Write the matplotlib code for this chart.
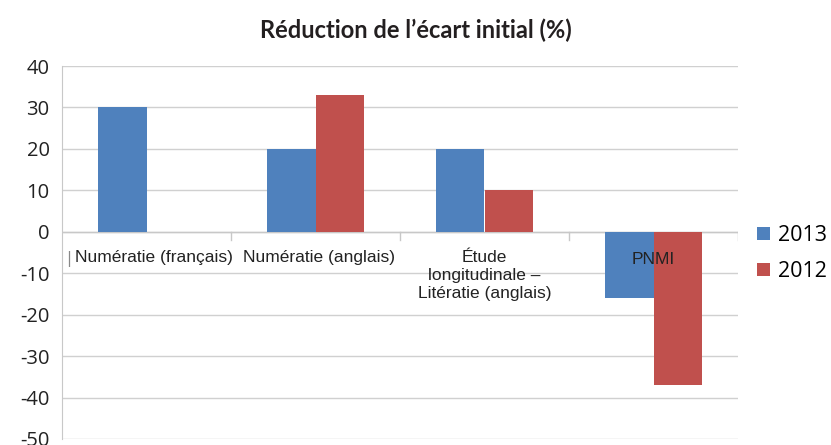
import matplotlib.pyplot as plt
import numpy as np

categories = ["Numératie (français)", "Numératie (anglais)",
              "Étude\nlongitudinale –\nLitératie (anglais)", "PNMI"]
series_2013 = [30, 20, 20, -16]
series_2012 = [0, 33, 10, -37]
yticks = [-50, -40, -30, -20, -10, 0, 10, 20, 30, 40]

fig = plt.figure(figsize=(8.31, 4.45), dpi=100)
ax = fig.add_axes([62 / 831, 1 - 439 / 445, (738 - 62) / 831, (439 - 66) / 445])

x = np.arange(len(categories))
w = 0.285
ax.bar(x - w / 2, series_2013, w, color="#4F81BD", label="2013", zorder=3)
ax.bar(x + w / 2, series_2012, w, color="#C0504D", label="2012", zorder=3)

ax.set_xlim(-0.5, len(categories) - 0.5)
ax.set_ylim(-50, 40)
ax.set_yticks(yticks)
ax.set_yticklabels([str(v) for v in yticks], fontsize=14.5, family="Open Sans", color="#222222")
ax.tick_params(axis="y", length=0, pad=9)
ax.set_xticks([])
ax.grid(axis="y", color="#d0d0d0", linewidth=1, zorder=0)
for s in ["top", "right", "bottom"]:
    ax.spines[s].set_visible(False)
ax.spines["left"].set_color("#c8c8c8")
ax.axhline(0, color="#c8c8c8", linewidth=1, zorder=2)

# small tick marks between categories under the zero line
for b in np.arange(0.5, len(categories) - 0.5, 1):
    ax.plot([b, b], [0, -2], color="#c8c8c8", linewidth=1, zorder=2, clip_on=False)
ax.plot([len(categories) - 0.5] * 2, [0, -2], color="#c8c8c8", linewidth=1, zorder=2)

# category labels sit just under zero
label_dx = [0.045, 0.02, 0, 0]
label_y = [-4.5, -4.5, -4.5, -5.0]
for i, c in enumerate(categories):
    ax.text(i + label_dx[i], label_y[i], c, ha="center", va="top", fontsize=12.5,
            family="Liberation Sans", color="#222222", linespacing=1.22, zorder=4)
ax.text(-0.463, -4.6, "|", ha="center", va="top", fontsize=10.5, color="#888888")

fig.text(0.5, 0.932, "Réduction de l’écart initial (%)", ha="center", va="center",
         fontsize=17, fontweight="bold", family="Lato", color="#231f20")

leg = ax.legend(loc="center left", bbox_to_anchor=(1.0, 0.497), frameon=False,
                prop={"family": "Open Sans", "size": 15.5}, handlelength=0.6,
                handleheight=0.6, handletextpad=0.35, labelspacing=0.7)

fig.savefig("out.png", dpi=100)
